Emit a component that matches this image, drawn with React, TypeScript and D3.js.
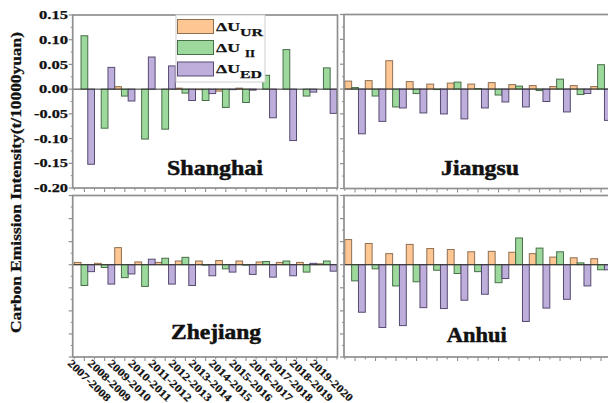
import React from 'react';
import * as d3 from 'd3';

const categories = ['2007-2008','2008-2009','2009-2010','2010-2011','2011-2012','2012-2013','2013-2014','2014-2015','2015-2016','2016-2017','2017-2018','2018-2019','2019-2020'];
const yTicks = [0.15, 0.10, 0.05, 0.00, -0.05, -0.10, -0.15, -0.20];
const yTickLabels = ['0.15','0.10','0.05','0.00','-0.05','-0.10','-0.15','-0.20'];

const shanghaiUR = [0, 0, 0.005, 0, 0, 0.002, -0.001, -0.004, 0.002, 0, 0, 0, 0];
const shanghaiII = [0.108, -0.079, -0.014, -0.101, -0.081, -0.008, -0.023, -0.037, -0.027, 0.028, 0.080, -0.014, 0.043];
const shanghaiED = [-0.152, 0.044, -0.024, 0.065, 0.047, -0.023, -0.009, -0.001, -0.002, -0.058, -0.104, -0.006, -0.049];

const jiangsuUR = [0.016, 0.017, 0.057, 0.015, 0.010, 0.012, 0.010, 0.013, 0.009, 0.007, 0.005, 0.007, 0.005];
const jiangsuII = [0.003, -0.014, -0.036, -0.009, -0.001, 0.014, 0.001, -0.012, 0.006, -0.003, 0.020, -0.011, 0.049];
const jiangsuED = [-0.090, -0.065, -0.038, -0.048, -0.050, -0.060, -0.038, -0.026, -0.036, -0.025, -0.046, -0.009, -0.063];

const zhejiangUR = [0.005, 0.003, 0.037, 0.006, 0.005, 0.008, 0.008, 0.009, 0.008, 0.006, 0.005, 0.005, 0.002];
const zhejiangII = [-0.045, -0.006, -0.028, -0.047, 0.014, 0.016, -0.001, -0.009, -0.001, 0.007, 0.008, -0.016, 0.008];
const zhejiangED = [-0.015, -0.042, -0.020, 0.012, -0.042, -0.045, -0.024, -0.016, -0.021, -0.027, -0.024, 0.003, -0.014];

const anhuiUR = [0.0545, 0.046, 0.024, 0.044, 0.035, 0.033, 0.028, 0.029, 0.027, 0.024, 0.0165, 0.015, 0.013];
const anhuiII = [-0.035, -0.009, -0.046, -0.037, -0.012, -0.019, -0.015, -0.039, 0.058, 0.036, 0.028, 0.004, -0.011];
const anhuiED = [-0.103, -0.136, -0.132, -0.093, -0.095, -0.077, -0.064, -0.030, -0.123, -0.094, -0.075, -0.046, -0.011];

const seriesStyle = [
  { key: 'UR', fill: '#FDC692', stroke: '#8f6f52' },
  { key: 'II', fill: '#9DD89D', stroke: '#476f47' },
  { key: 'ED', fill: '#BDAEDB', stroke: '#564a70' },
];

const FONT = '"Liberation Serif", "Times New Roman", serif';
const AXIS = '#8f8f8f';
const INK = '#111';

const panels = [
  { name: 'Shanghai', x0: 72.7, bandStart: 74.3, bw: 20.2, x1: 337.5, yTop: 15, yBot: 188, data: [shanghaiUR, shanghaiII, shanghaiED], tx: 215, ty: 174.5, tlen: 96, labels: true, xl: false },
  { name: 'Jiangsu', x0: 344, bandStart: 344.8, bw: 20.5, x1: 613, yTop: 14.5, yBot: 188.5, data: [jiangsuUR, jiangsuII, jiangsuED], tx: 480, ty: 175, tlen: 78, labels: false, xl: false },
  { name: 'Zhejiang', x0: 72.7, bandStart: 74.3, bw: 20.2, x1: 337.5, yTop: 195.5, yBot: 357, data: [zhejiangUR, zhejiangII, zhejiangED], tx: 216, ty: 338.5, tlen: 90, labels: false, xl: true },
  { name: 'Anhui', x0: 344, bandStart: 344.8, bw: 20.5, x1: 613, yTop: 195.5, yBot: 357, data: [anhuiUR, anhuiII, anhuiED], tx: 476.7, ty: 342, tlen: 60, labels: false, xl: false },
];

function Panel({ p }: { p: any }) {
  const x = d3.scaleBand<string>().domain(categories).range([p.bandStart, p.bandStart + p.bw * categories.length]).paddingInner(0).paddingOuter(0);
  const y = d3.scaleLinear().domain([-0.2, 0.15]).range([p.yBot, p.yTop]);
  const sub = d3.scaleBand<string>().domain(['UR', 'II', 'ED']).range([0, x.bandwidth()]);
  const minor = d3.range(-0.175, 0.15, 0.05);
  const bounds = d3.range(categories.length + 1).map(i => p.bandStart + i * p.bw);
  return (
    <g>
      {seriesStyle.map((s, si) => (
        <g key={s.key}>
          {categories.map((c, i) => {
            const v = p.data[si][i];
            const yy = Math.min(y(v), y(0));
            const h = Math.abs(y(v) - y(0));
            return <rect key={c} x={(x(c) as number) + (sub(s.key) as number)} y={yy} width={sub.bandwidth()} height={h} fill={s.fill} stroke={s.stroke} strokeWidth={1} />;
          })}
        </g>
      ))}
      <line x1={p.x0} x2={p.x1} y1={y(0)} y2={y(0)} stroke="#333" strokeWidth={1} />
      <rect x={p.x0} y={p.yTop} width={p.x1 - p.x0} height={p.yBot - p.yTop} fill="none" stroke={AXIS} strokeWidth={1.7} />
      {yTicks.map(t => (
        <line key={'t' + t} x1={p.x0 - 4} x2={p.x0} y1={y(t)} y2={y(t)} stroke={AXIS} strokeWidth={1.2} />
      ))}
      {minor.map(t => (
        <line key={'m' + t} x1={p.x0 - 2} x2={p.x0} y1={y(t)} y2={y(t)} stroke={AXIS} strokeWidth={1} />
      ))}
      {categories.map(c => (
        <line key={'bt' + c} x1={(x(c) as number) + x.bandwidth() / 2} x2={(x(c) as number) + x.bandwidth() / 2} y1={p.yBot} y2={p.yBot + 4} stroke={AXIS} strokeWidth={1.1} />
      ))}
      {bounds.map((b, i) => (
        <line key={'bb' + i} x1={b} x2={b} y1={p.yBot} y2={p.yBot + 2.5} stroke={AXIS} strokeWidth={1} />
      ))}
      {p.labels && yTicks.map((t, i) => (
        <text key={'l' + t} x={68} y={y(t) + 4.2} textAnchor="end" fontFamily={FONT} fontWeight="bold" fontSize={12.5}
          stroke={INK} strokeWidth={0.25}
          textLength={t < 0 ? 34 : 29} lengthAdjust="spacingAndGlyphs" fill={INK}>{yTickLabels[i]}</text>
      ))}
      {p.xl && categories.map(c => {
        const cx = (x(c) as number) + x.bandwidth() / 2;
        return (
          <text key={'xl' + c} transform={`translate(${cx - 17.5},${364}) rotate(44)`} fontFamily={FONT} fontWeight="bold" fontSize={11}
            stroke={INK} strokeWidth={0.2}
            textLength={55} lengthAdjust="spacingAndGlyphs" fill={INK}>{c}</text>
        );
      })}
      <text x={p.tx} y={p.ty} textAnchor="middle" fontFamily={FONT} fontWeight="bold" fontSize={21}
        stroke={INK} strokeWidth={0.5}
        textLength={p.tlen} lengthAdjust="spacingAndGlyphs" fill={INK}>{p.name}</text>
    </g>
  );
}

function Legend() {
  const rows = [
    { s: seriesStyle[0], sub: 'UR', subX: 240, subLen: 23, base: 30.7 },
    { s: seriesStyle[1], sub: 'II', subX: 245, subLen: 10, base: 51.7 },
    { s: seriesStyle[2], sub: 'ED', subX: 240, subLen: 22, base: 73.2 },
  ];
  return (
    <g>
      <rect x={176} y={15} width={89} height={67} fill="#fff" stroke="#d0d0d0" strokeWidth={1} />
      {rows.map(r => (
        <g key={r.sub}>
          <rect x={177.5} y={r.base - 11.2} width={36} height={14} fill={r.s.fill} stroke={r.s.stroke} strokeWidth={1} />
          <text x={216} y={r.base} fontFamily={FONT} fontWeight="bold" fontSize={12.5} stroke={INK} strokeWidth={0.25} textLength={24} lengthAdjust="spacingAndGlyphs" fill={INK}>ΔU</text>
          <text x={r.subX} y={r.base + 4.8} fontFamily={FONT} fontWeight="bold" fontSize={11} stroke={INK} strokeWidth={0.25} textLength={r.subLen} lengthAdjust="spacingAndGlyphs" fill={INK}>{r.sub}</text>
        </g>
      ))}
    </g>
  );
}

export default function App() {
  return (
    <svg width={608} height={403} style={{ position: 'absolute', left: 0, top: 0, background: '#fff' }}>
      <rect x={0} y={0} width={608} height={403} fill="#fff" />
      {panels.map(p => <Panel key={p.name} p={p} />)}
      <Legend />
      <text transform="translate(21,182.5) rotate(-90)" textAnchor="middle" fontFamily={FONT} fontWeight="bold" fontSize={15}
        stroke={INK} strokeWidth={0.3}
        textLength={301} lengthAdjust="spacingAndGlyphs" fill={INK}>Carbon Emission Intensity(t/10000yuan)</text>
    </svg>
  );
}
